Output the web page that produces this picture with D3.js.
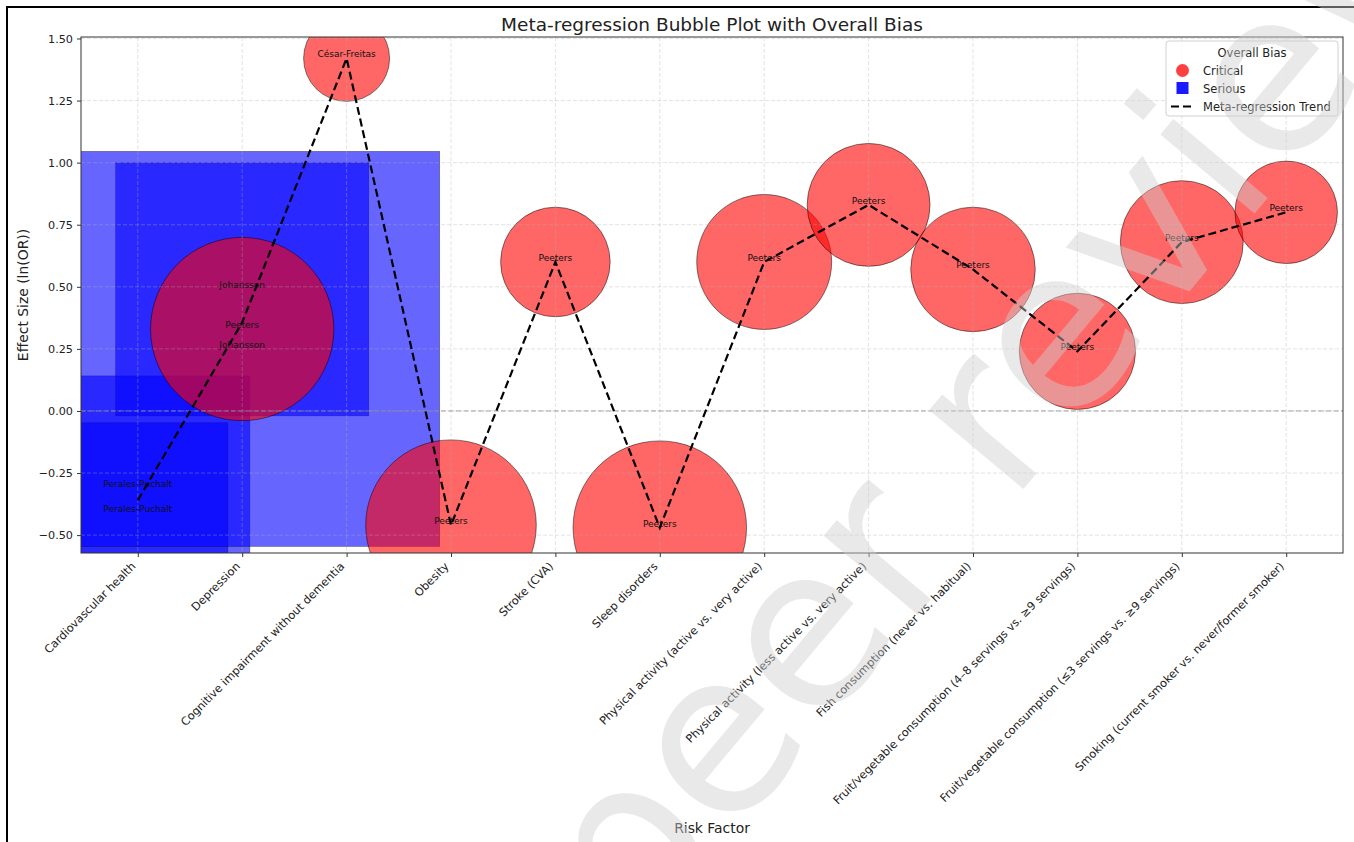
<!DOCTYPE html>
<html>
<head>
<meta charset="utf-8">
<script src="https://cdn.jsdelivr.net/npm/d3@7"></script>
<style>
  html, body { margin: 0; padding: 0; background: #fff; }
  svg text { font-family: "DejaVu Sans", sans-serif; }
</style>
</head>
<body>
<svg id="chart" width="1354" height="842"></svg>
<script>
// Risk factors along the x axis
const categories = [
  "Cardiovascular health",
  "Depression",
  "Cognitive impairment without dementia",
  "Obesity",
  "Stroke (CVA)",
  "Sleep disorders",
  "Physical activity (active vs. very active)",
  "Physical activity (less active vs. very active)",
  "Fish consumption (never vs. habitual)",
  "Fruit/vegetable consumption (4–8 servings vs. ≥9 servings)",
  "Fruit/vegetable consumption (≤3 servings vs. ≥9 servings)",
  "Smoking (current smoker vs. never/former smoker)"
];

// One entry per study estimate
const studyFactor = [0, 0, 1, 1, 1, 2, 3, 4, 5, 6, 7, 8, 9, 10, 11];
const studyAuthor = ["Perales-Puchalt", "Perales-Puchalt", "Johansson", "Peeters", "Johansson",
  "César-Freitas", "Peeters", "Peeters", "Peeters", "Peeters", "Peeters", "Peeters",
  "Peeters", "Peeters", "Peeters"];
const studyEffect = [-0.31, -0.41, 0.49, 0.33, 0.25, 1.42, -0.46, 0.60, -0.47, 0.60, 0.83, 0.57, 0.24, 0.68, 0.80];
const studyBias = ["Serious", "Serious", "Serious", "Critical", "Serious", "Critical", "Critical",
  "Critical", "Critical", "Critical", "Critical", "Critical", "Critical", "Critical", "Critical"];
const studyWeight = [502, 324, 640, 336, 1560, 74, 291, 120, 301, 182, 151, 155, 135, 151, 105];

const yTicks = [-0.50, -0.25, 0.00, 0.25, 0.50, 0.75, 1.00, 1.25, 1.50];
const biasLevels = ["Critical", "Serious"];

const studies = studyFactor.map((f, i) => ({
  factor: categories[f], author: studyAuthor[i], effect: studyEffect[i],
  bias: studyBias[i], weight: studyWeight[i]
}));

// Mean effect per risk factor for the trend line
const trend = categories.map(c => ({
  factor: c,
  effect: d3.mean(studies.filter(s => s.factor === c), s => s.effect)
}));

const svg = d3.select("#chart");
const margin = { left: 81, right: 11, top: 37, bottom: 289 };
const W = 1354, H = 842;
const plotL = margin.left, plotR = W - margin.right, plotT = margin.top, plotB = H - margin.bottom;

const x = d3.scalePoint().domain(categories).range([plotL, plotR]).padding(0.544);
const y = d3.scaleLinear().domain([-0.572, 1.506]).range([plotB, plotT]);
const size = d3.scaleSqrt().domain([0, 1600]).range([0, 400]);
const color = d3.scaleOrdinal().domain(biasLevels).range(["red", "blue"]);

// Figure frame
svg.append("rect").attr("x", 7).attr("y", 7).attr("width", 1400).attr("height", 900)
  .attr("fill", "#fff").attr("stroke", "#000").attr("stroke-width", 2);

svg.append("defs").append("clipPath").attr("id", "plot-clip")
  .append("rect").attr("x", plotL).attr("y", plotT)
  .attr("width", plotR - plotL).attr("height", plotB - plotT);

const plot = svg.append("g").attr("clip-path", "url(#plot-clip)");

// Serious-bias estimates as squares, critical ones as circles on top
plot.append("g").selectAll("rect")
  .data(studies.filter(s => s.bias === "Serious"))
  .join("rect")
  .attr("x", d => x(d.factor) - size(d.weight) / 2)
  .attr("y", d => y(d.effect) - size(d.weight) / 2)
  .attr("width", d => size(d.weight))
  .attr("height", d => size(d.weight))
  .attr("fill", d => color(d.bias)).attr("fill-opacity", 0.6)
  .attr("stroke", "#000").attr("stroke-opacity", 0.45).attr("stroke-width", 0.7);

plot.append("g").selectAll("circle")
  .data(studies.filter(s => s.bias === "Critical"))
  .join("circle")
  .attr("cx", d => x(d.factor))
  .attr("cy", d => y(d.effect))
  .attr("r", d => size(d.weight) / 2)
  .attr("fill", d => color(d.bias)).attr("fill-opacity", 0.6)
  .attr("stroke", "#000").attr("stroke-opacity", 0.6).attr("stroke-width", 0.8);

// Grid
const grid = plot.append("g").attr("stroke", "#b0b0b0").attr("stroke-opacity", 0.45)
  .attr("stroke-width", 0.8).attr("stroke-dasharray", "4,2");
grid.selectAll(".gx").data(categories).join("line")
  .attr("x1", d => x(d)).attr("x2", d => x(d)).attr("y1", plotT).attr("y2", plotB);
grid.selectAll(".gy").data(yTicks).join("line")
  .attr("x1", plotL).attr("x2", plotR).attr("y1", d => y(d)).attr("y2", d => y(d));

// Zero reference line
plot.append("line")
  .attr("x1", plotL).attr("x2", plotR).attr("y1", y(0)).attr("y2", y(0))
  .attr("stroke", "#8c8c8c").attr("stroke-opacity", 0.8).attr("stroke-width", 1)
  .attr("stroke-dasharray", "5,2.5");

// Meta-regression trend
plot.append("path")
  .datum(trend)
  .attr("d", d3.line().x(d => x(d.factor)).y(d => y(d.effect)))
  .attr("fill", "none").attr("stroke", "#000").attr("stroke-width", 2.2)
  .attr("stroke-dasharray", "8,4");

// Study labels
plot.append("g").selectAll("text")
  .data(studies)
  .join("text")
  .attr("x", d => x(d.factor))
  .attr("y", d => y(d.effect) - 1)
  .attr("text-anchor", "middle")
  .attr("font-size", 9)
  .attr("fill", "#111")
  .text(d => d.author);

// Axes frame
svg.append("rect").attr("x", plotL).attr("y", plotT)
  .attr("width", plotR - plotL).attr("height", plotB - plotT)
  .attr("fill", "none").attr("stroke", "#333").attr("stroke-width", 1);

// Y axis
const yAxis = svg.append("g").attr("transform", `translate(${plotL},0)`)
  .call(d3.axisLeft(y).tickValues(yTicks).tickFormat(d3.format(".2f")).tickSize(4).tickPadding(4));
yAxis.select(".domain").remove();
yAxis.selectAll("line").attr("stroke", "#333");
yAxis.selectAll("text").attr("font-size", 11.2).attr("fill", "#222")
  .attr("font-family", "DejaVu Sans");

// X axis
const xAxis = svg.append("g").attr("transform", `translate(0,${plotB})`)
  .call(d3.axisBottom(x).tickSize(4).tickFormat(d => d));
xAxis.select(".domain").remove();
xAxis.selectAll("line").attr("stroke", "#333");
xAxis.selectAll("text")
  .attr("font-size", 11.3).attr("fill", "#222").attr("font-family", "DejaVu Sans")
  .attr("text-anchor", "end")
  .attr("x", 0).attr("y", 0).attr("dy", null)
  .attr("transform", "translate(-2,14) rotate(-45)");

// Titles
svg.append("text").attr("x", (plotL + plotR) / 2).attr("y", 30.5)
  .attr("text-anchor", "middle").attr("font-size", 18.5).attr("fill", "#222")
  .text("Meta-regression Bubble Plot with Overall Bias");
svg.append("text").attr("x", (plotL + plotR) / 2).attr("y", 833)
  .attr("text-anchor", "middle").attr("font-size", 13.9).attr("fill", "#222")
  .text("Risk Factor");
svg.append("text").attr("transform", `translate(28,${(plotT + plotB) / 2}) rotate(-90)`)
  .attr("text-anchor", "middle").attr("font-size", 13.9).attr("fill", "#222")
  .text("Effect Size (ln(OR))");

// Legend
const lg = svg.append("g").attr("transform", "translate(1166,41)");
lg.append("rect").attr("width", 172).attr("height", 75).attr("rx", 3)
  .attr("fill", "#fff").attr("fill-opacity", 0.8).attr("stroke", "#d0d0d0");
lg.append("text").attr("x", 86).attr("y", 16).attr("text-anchor", "middle")
  .attr("font-size", 11.5).attr("fill", "#222").text("Overall Bias");
lg.append("circle").attr("cx", 16.5).attr("cy", 29.5).attr("r", 6.5)
  .attr("fill", color("Critical")).attr("fill-opacity", 0.75);
lg.append("rect").attr("x", 10.5).attr("y", 41).attr("width", 12).attr("height", 12)
  .attr("fill", color("Serious")).attr("fill-opacity", 0.9);
lg.append("line").attr("x1", 5).attr("x2", 28).attr("y1", 65.5).attr("y2", 65.5)
  .attr("stroke", "#000").attr("stroke-width", 2.2).attr("stroke-dasharray", "8,4");
const legendLabels = [...biasLevels, "Meta-regression Trend"];
lg.selectAll(".ll").data(legendLabels).join("text")
  .attr("x", 37).attr("y", (d, i) => 33.5 + i * 18)
  .attr("font-size", 11.5).attr("fill", "#222").text(d => d);

// Watermark
svg.append("text")
  .attr("transform", "translate(635,952) rotate(-50)")
  .attr("font-size", 225)
  .attr("fill", "#cfcfcf").attr("fill-opacity", 0.45)
  .text("peer reviewed");
</script>
</body>
</html>
